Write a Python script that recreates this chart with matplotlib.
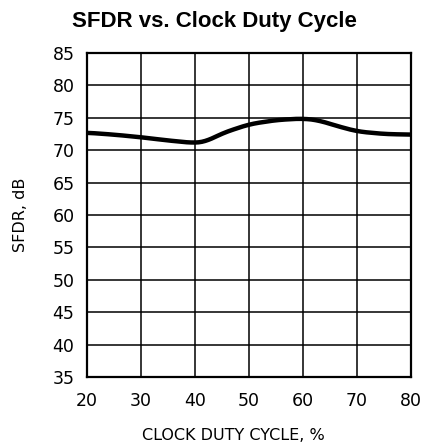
import matplotlib
matplotlib.use("Agg")
import matplotlib.pyplot as plt
import numpy as np

# SFDR measured across clock duty cycle
duty_cycle = [20, 25, 30, 35, 40, 42, 45, 50, 55, 60, 63, 66, 70, 75, 80]
sfdr_db = [72.7, 72.4, 72.0, 71.5, 71.1, 71.3, 72.6, 74.0, 74.65, 74.9, 74.6, 73.8, 72.9, 72.5, 72.4]

x_ticks = [20, 30, 40, 50, 60, 70, 80]
y_ticks = [35, 40, 45, 50, 55, 60, 65, 70, 75, 80, 85]

fig = plt.figure(figsize=(4.29, 4.48), dpi=100)
ax = fig.add_axes([0.2028, 0.1585, 0.7552, 0.7232])

# smooth the curve between the read points
xs = np.linspace(20, 80, 300)
ys = np.interp(xs, duty_cycle, sfdr_db)
k = 9
ys_s = np.convolve(np.pad(ys, k, mode="edge"), np.ones(2 * k + 1) / (2 * k + 1), mode="same")[k:-k]
ax.plot(xs, ys_s, color="black", lw=3.2, solid_capstyle="butt")

ax.set_xlim(20, 80)
ax.set_ylim(35, 85)
ax.set_xticks(x_ticks)
ax.set_yticks(y_ticks)
ax.grid(True, color="black", lw=1.1)
ax.tick_params(length=0, labelsize=12.5)
ax.tick_params(axis="x", pad=11)
ax.tick_params(axis="y", pad=9)
for s in ax.spines.values():
    s.set_linewidth(1.6)

fig.text(0.5, 0.953, "SFDR vs. Clock Duty Cycle", ha="center", va="center",
         fontsize=16, fontweight="bold", family="Liberation Sans")
fig.text(0.047, 0.52, "SFDR, dB", rotation=90, ha="center", va="center", fontsize=11.5)
fig.text(0.545, 0.027, "CLOCK DUTY CYCLE, %", ha="center", va="center", fontsize=11.5)

fig.savefig("out.png", dpi=100)
